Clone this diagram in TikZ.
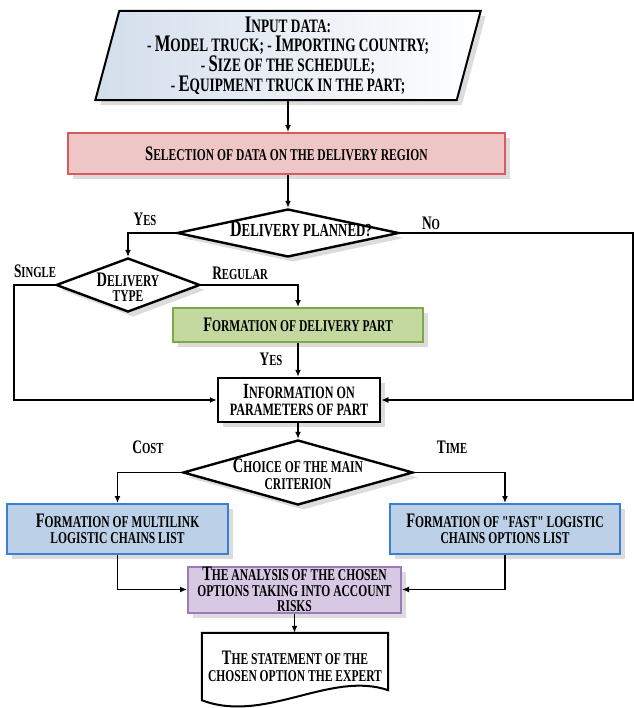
\documentclass[tikz,border=0pt]{standalone}
\usepackage{fontspec}
\newfontfamily\df{Liberation Serif}[FakeStretch=0.70]
\usetikzlibrary{shapes.geometric,shadows,calc,arrows.meta,backgrounds}
\makeatletter
\newcommand\C[1]{{\fontsize{\fpeval{1.25*\f@size}pt}{0pt}\selectfont #1}}
\makeatother
\definecolor{redfill}{HTML}{EEC6C6}
\definecolor{redline}{HTML}{D9595C}
\definecolor{grnfill}{HTML}{C3D9A0}
\definecolor{grnline}{HTML}{7FA84A}
\definecolor{bluefill}{HTML}{BCD1E8}
\definecolor{blueline}{HTML}{3B7FD4}
\definecolor{purfill}{HTML}{D7C8E3}
\definecolor{purline}{HTML}{9C7BBA}
\definecolor{shadowc}{HTML}{DCDCDC}
\definecolor{paraL}{HTML}{D3DEEC}
\tikzset{
  txt/.style={font=\df\bfseries\fontsize{16.5}{16.5}\selectfont, align=center, inner sep=0pt},
  shad/.style={drop shadow={shadow xshift=5pt, shadow yshift=-5pt, fill=shadowc, opacity=1}},
  box/.style={txt, rectangle, line width=2pt, shad},
  dia/.style={diamond, draw=black, line width=2.4pt, fill=white, inner sep=0pt, shad},
  conn/.style={line width=1.5pt, -{Latex[length=7pt,width=6pt]}},
  lbl/.style={font=\df\bfseries\fontsize{15.3}{14}\selectfont, inner sep=0pt},
}
\begin{document}
\begin{tikzpicture}[x=1pt,y=-1pt]
\useasboundingbox (0,0) rectangle (633,708);

% input data
\node[txt, font=\df\bfseries\fontsize{19}{19.6}\selectfont, minimum width=361pt, minimum height=89pt] (inp) at (288,55.5)
  {\C{I}NPUT DATA:\\- \C{M}ODEL TRUCK; - \C{I}MPORTING COUNTRY;\\- \C{S}IZE OF THE SCHEDULE;\\- \C{E}QUIPMENT TRUCK IN THE PART;};
\begin{scope}[on background layer]
  \fill[shadowc] ($(inp.north west)+(17,5)$) -- ($(inp.north east)+(17,5)$) -- ($(inp.south east)+(-7,5)$) -- ($(inp.south west)+(-7,5)$) -- cycle;
  \path[draw=black, line width=2pt, left color=paraL, right color=white] ($(inp.north west)+(12,0)$) -- ($(inp.north east)+(12,0)$) -- ($(inp.south east)+(-12,0)$) -- ($(inp.south west)+(-12,0)$) -- cycle;
\end{scope}

% selection
\node[box, draw=redline, fill=redfill, minimum width=437pt, minimum height=41pt] (sel) at (286.5,153.5)
  {\C{S}ELECTION OF DATA ON THE DELIVERY REGION};

% diamond 1
\node[dia, minimum width=222pt, minimum height=48pt] (d1) at (288,233) {};
\node[txt, font=\df\bfseries\fontsize{18.4}{17}\selectfont] (d1t) at (301,229) {\C{D}ELIVERY PLANNED?};

% diamond 2
\node[dia, minimum width=144pt, minimum height=54pt] (d2) at (128,285) {};
\node[txt, font=\df\bfseries\fontsize{16.5}{15.5}\selectfont] (d2t) at (128,287) {\C{D}ELIVERY\\TYPE};

% green
\node[box, draw=grnline, fill=grnfill, minimum width=250pt, minimum height=34pt] (grn) at (298,325)
  {\C{F}ORMATION OF DELIVERY PART};

% info
\node[box, draw=black, line width=2.5pt, fill=white, font=\df\bfseries\fontsize{17.3}{16.5}\selectfont, minimum width=162pt, minimum height=44pt] (info) at (299,400)
  {\C{I}NFORMATION ON\\PARAMETERS OF PART};

% diamond 3
\node[dia, minimum width=230pt, minimum height=65pt] (d3) at (298,472.5) {};
\node[txt, font=\df\bfseries\fontsize{16.5}{16.5}\selectfont] (d3t) at (298,474) {\C{C}HOICE OF THE MAIN\\CRITERION};

% blue boxes
\node[box, draw=blueline, fill=bluefill, minimum width=221pt, minimum height=50pt] (lb) at (117.5,529)
  {\C{F}ORMATION OF MULTILINK\\LOGISTIC CHAINS LIST};
\node[box, draw=blueline, fill=bluefill, minimum width=230pt, minimum height=50pt] (rb) at (505,529)
  {\C{F}ORMATION OF "FAST" LOGISTIC\\CHAINS OPTIONS LIST};

% purple
\node[box, draw=purline, fill=purfill, minimum width=213pt, minimum height=46pt, font=\df\bfseries\fontsize{16.5}{15.3}\selectfont] (pur) at (294.5,589.5)
  {\C{T}HE ANALYSIS OF THE CHOSEN\\OPTIONS TAKING INTO ACCOUNT\\RISKS};

% document
\node[minimum width=186pt, minimum height=57pt, inner sep=0pt] (doc) at (295,661.5) {};
\begin{scope}[on background layer]
  \fill[shadowc, shift={(5,5)}] (doc.north west) -- (doc.north east) -- (doc.south east)
     .. controls ($(doc.south east)+(-58,-20)$) and ($(doc.south west)+(63,34)$) .. ($(doc.south west)+(0,10)$) -- cycle;
  \path[draw=black, line width=2pt, fill=white] (doc.north west) -- (doc.north east) -- (doc.south east)
     .. controls ($(doc.south east)+(-58,-20)$) and ($(doc.south west)+(63,34)$) .. ($(doc.south west)+(0,10)$) -- cycle;
\end{scope}
\node[txt, font=\df\bfseries\fontsize{16.5}{17}\selectfont] (doct) at (295,666)
  {\C{T}HE STATEMENT OF THE\\CHOSEN OPTION THE EXPERT};

% labels
\node[lbl] (lyes1) at (145,219) {\C{Y}ES};
\node[lbl] (lno) at (431,223) {\C{N}O};
\node[lbl] (lsingle) at (35,271) {\C{S}INGLE};
\node[lbl] (lreg) at (240,273) {\C{R}EGULAR};
\node[lbl] (lyes2) at (271,359) {\C{Y}ES};
\node[lbl] (lcost) at (148,447) {\C{C}OST};
\node[lbl] (ltime) at (452,447) {\C{T}IME};

% helper coordinates
\coordinate (noA) at (633,233);
\coordinate (noB) at (633,400);
\coordinate (sgA) at (14,285);
\coordinate (sgB) at (14,400);

% connectors
\draw[conn] (d1.north |- inp.south) -- (d1.north |- sel.north);
\draw[conn] (d1.north |- sel.south) -- (d1.north);
\draw[conn] (d1.west) -| (d2.north);
\draw[conn] (d1.east) -- (noA) -- (noB) -- (info.east);
\draw[conn] (d2.west) -- (sgA) -- (sgB) -- (info.west);
\draw[conn] (d2.east) -| (grn.north);
\draw[conn] (grn.south) -- (grn.south |- info.north);
\draw[conn] (d3.north |- info.south) -- (d3.north);
\draw[conn] (d3.west) -| (lb.north);
\draw[conn] (d3.east) -| (rb.north);
\draw[conn] (lb.south) |- (pur.west);
\draw[conn] (rb.south) |- (pur.east);
\draw[conn] (pur.south) -- (pur.south |- doc.north);
\end{tikzpicture}
\end{document}
